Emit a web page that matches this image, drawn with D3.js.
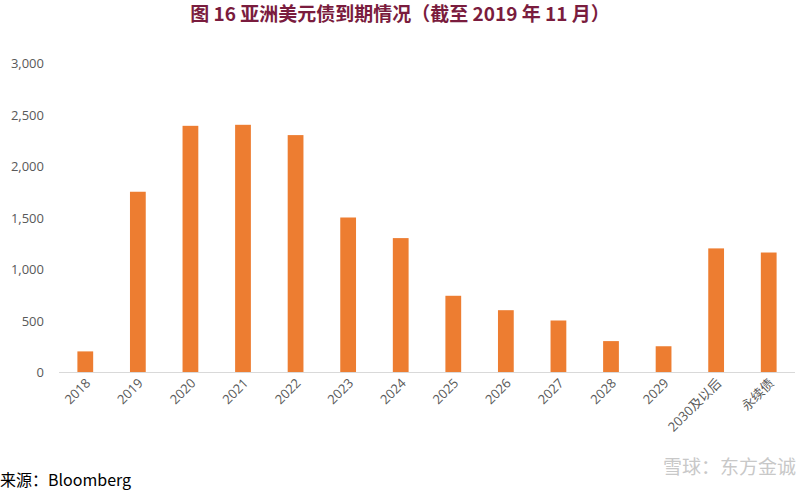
<!DOCTYPE html>
<html><head><meta charset="utf-8">
<script src="https://cdn.jsdelivr.net/npm/d3@7"></script>
<style>body{margin:0;background:#fff;font-family:"Noto Sans CJK SC","Noto Sans",sans-serif}</style>
</head><body>
<svg id="chart" width="800" height="492"></svg>
<script>
// Chart data.
const categories = ["2018","2019","2020","2021","2022","2023","2024","2025","2026","2027","2028","2029","2030及以后","永续债"];
const values = [200, 1750, 2390, 2400, 2300, 1500, 1300, 740, 600, 500, 300, 250, 1200, 1160];
const yTicks = [0, 500, 1000, 1500, 2000, 2500, 3000];

var svg = d3.select("#chart");
var plotLeft = 59, plotRight = 795, plotTop = 63, plotBottom = 372;

svg.append("text")
  .attr("x", 400).attr("y", 21)
  .attr("text-anchor", "middle")
  .attr("font-size", 19).attr("font-weight", "bold")
  .attr("fill", "#7a1c3e")
  .text("图 16  亚洲美元债到期情况（截至 2019 年 11 月）");

var x = d3.scaleBand().domain(categories).range([plotLeft, plotRight]).paddingInner(0.7).paddingOuter(0.35);
var y = d3.scaleLinear().domain([0, 3000]).range([plotBottom, plotTop]);

// y axis labels
svg.append("g").selectAll("text").data(yTicks).join("text")
  .attr("x", 44).attr("y", d => y(d) + 5)
  .attr("text-anchor", "end")
  .attr("font-size", 13).attr("fill", "#595959")
  .attr("font-family", "Open Sans, sans-serif")
  .text(d => d3.format(",")(d));

// baseline
svg.append("line").attr("x1", plotLeft).attr("x2", plotRight)
  .attr("y1", plotBottom + 0.5).attr("y2", plotBottom + 0.5)
  .attr("stroke", "#d9d9d9");

svg.append("g").selectAll("rect").data(values).join("rect")
  .attr("x", (d, i) => x(categories[i]))
  .attr("width", x.bandwidth())
  .attr("y", d => y(d))
  .attr("height", d => plotBottom - y(d))
  .attr("fill", "#ed7d31");

// rotated x labels
svg.append("g").selectAll("text").data(categories).join("text")
  .attr("transform", d => `translate(${x(d) + x.bandwidth() / 2 + 6},${plotBottom + 12}) rotate(-45)`)
  .attr("text-anchor", "end")
  .attr("font-size", 13).attr("fill", "#595959")
  .attr("font-family", "Open Sans, 'Noto Sans CJK SC', sans-serif")
  .text(d => d);

svg.append("text").attr("x", 0).attr("y", 486)
  .attr("font-size", 16).attr("fill", "#000")
  .text("来源：Bloomberg");

svg.append("text").attr("x", 796).attr("y", 474)
  .attr("text-anchor", "end")
  .attr("font-size", 19).attr("fill", "#c8c8c8")
  .text("雪球：东方金诚");
</script>
</body></html>
